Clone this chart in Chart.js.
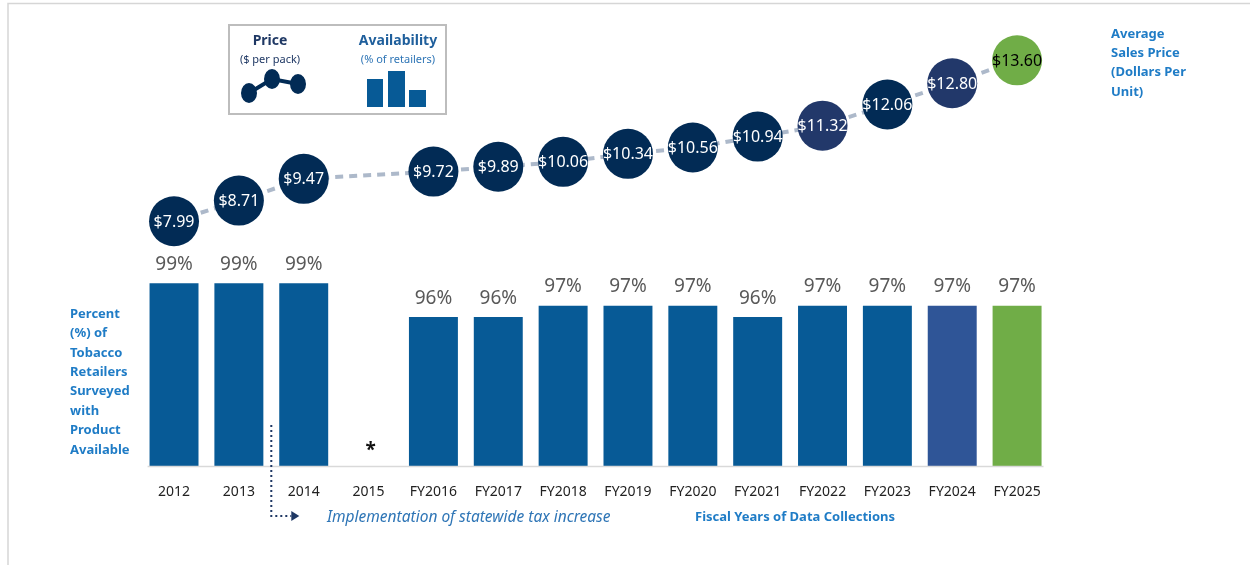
<!DOCTYPE html>
<html>
<head>
<meta charset="utf-8">
<script src="https://cdn.jsdelivr.net/npm/chart.js@4.4.1/dist/chart.umd.min.js"></script>
<style>
  html, body { margin: 0; padding: 0; background: #fff; }
  #chart { display: block; }
</style>
</head>
<body>
<canvas id="chart" width="1250" height="565"></canvas>
<script>
const years = ["2012", "2013", "2014", "2015", "FY2016", "FY2017", "FY2018", "FY2019", "FY2020", "FY2021", "FY2022", "FY2023", "FY2024", "FY2025"];
const availability = [99, 99, 99, null, 96, 96, 97, 97, 97, 96, 97, 97, 97, 97];
const prices = [7.99, 8.71, 9.47, null, 9.72, 9.89, 10.06, 10.34, 10.56, 10.94, 11.32, 12.06, 12.80, 13.60];

const barColors = years.map((y, i) => i === 13 ? "#70ad47" : i === 12 ? "#2f5597" : "#075a96");
const bubbleColors = years.map((y, i) => i === 13 ? "#70ad47" : (i === 10 || i === 12) ? "#22386a" : "#022b55");
const FONT = "'Noto Sans', 'Open Sans', sans-serif";
const BLUE_TXT = "#1f7cc6";

const dashed = [8, 6];

const extras = {
  id: "extras",
  afterDatasetsDraw(chart) {
    const { ctx, chartArea, scales } = chart;
    const x = scales.x;
    ctx.save();

    // frame
    ctx.strokeStyle = "#d6d6d6";
    ctx.lineWidth = 1.5;
    ctx.beginPath();
    ctx.moveTo(8, 565);
    ctx.lineTo(8, 3.5);
    ctx.lineTo(1250, 3.5);
    ctx.stroke();

    // axis line
    ctx.strokeStyle = "#d9d9d9";
    ctx.lineWidth = 1.5;
    ctx.beginPath();
    ctx.moveTo(chartArea.left + 6, chartArea.bottom + 0.5);
    ctx.lineTo(chartArea.right - 6, chartArea.bottom + 0.5);
    ctx.stroke();

    // bar value labels
    ctx.textAlign = "center";
    ctx.textBaseline = "middle";
    ctx.font = "19px " + FONT;
    ctx.fillStyle = "#595959";
    chart.getDatasetMeta(1).data.forEach((bar, i) => {
      if (availability[i] == null) return;
      ctx.fillText(availability[i] + "%", bar.x, bar.y - 19);
    });

    // bubble labels
    ctx.font = "16px " + FONT;
    chart.getDatasetMeta(0).data.forEach((pt, i) => {
      if (prices[i] == null) return;
      ctx.fillStyle = i === 13 ? "#000" : "#fff";
      ctx.fillText("$" + prices[i].toFixed(2), pt.x, pt.y + 1);
    });

    // category labels
    ctx.font = "14px " + FONT;
    ctx.fillStyle = "#222";
    years.forEach((y, i) => {
      ctx.fillText(y, x.getPixelForValue(i), chartArea.bottom + 26);
    });

    // asterisk for 2015
    ctx.font = "bold 19px " + FONT;
    ctx.fillStyle = "#111";
    ctx.fillText("*", x.getPixelForValue(3) + 2, chartArea.bottom - 15);

    // dotted arrow between 2013 and 2014
    const ax = (x.getPixelForValue(1) + x.getPixelForValue(2)) / 2;
    ctx.strokeStyle = "#1f3864";
    ctx.lineWidth = 2;
    ctx.setLineDash([2, 3]);
    ctx.beginPath();
    ctx.moveTo(ax, chartArea.bottom - 41);
    ctx.lineTo(ax, chartArea.bottom + 50);
    ctx.lineTo(ax + 20, chartArea.bottom + 50);
    ctx.stroke();
    ctx.setLineDash([]);
    ctx.fillStyle = "#1f3864";
    ctx.beginPath();
    ctx.moveTo(ax + 20, chartArea.bottom + 45);
    ctx.lineTo(ax + 28, chartArea.bottom + 50);
    ctx.lineTo(ax + 20, chartArea.bottom + 55);
    ctx.closePath();
    ctx.fill();

    ctx.textAlign = "left";
    ctx.font = "italic 15.5px " + FONT;
    ctx.fillStyle = "#2e75b6";
    ctx.fillText("Implementation of statewide tax increase", 327, 518);

    ctx.font = "bold 13px " + FONT;
    ctx.fillStyle = BLUE_TXT;
    ctx.fillText("Fiscal Years of Data Collections", 695, 517);

    // side titles
    const leftLines = ["Percent", "(%) of", "Tobacco", "Retailers", "Surveyed", "with", "Product", "Available"];
    leftLines.forEach((t, i) => ctx.fillText(t, 70, 314 + i * 19.4));
    const rightLines = ["Average", "Sales Price", "(Dollars Per", "Unit)"];
    rightLines.forEach((t, i) => ctx.fillText(t, 1111, 34 + i * 19.3));

    // legend box
    ctx.strokeStyle = "#bdbdbd";
    ctx.lineWidth = 2;
    ctx.strokeRect(229, 25, 217, 89);
    ctx.textAlign = "center";
    ctx.fillStyle = "#1f3864";
    ctx.font = "bold 14px " + FONT;
    ctx.fillText("Price", 270, 41);
    ctx.fillStyle = "#1f5f9c";
    ctx.fillText("Availability", 398, 41);
    ctx.font = "11px " + FONT;
    ctx.fillStyle = "#1f3864";
    ctx.fillText("($ per pack)", 270, 60);
    ctx.fillStyle = "#2e75b6";
    ctx.fillText("(% of retailers)", 398, 60);

    const icon = [[249, 93], [272, 79], [298, 84]];
    ctx.strokeStyle = "#022b55";
    ctx.lineWidth = 4;
    ctx.beginPath();
    ctx.moveTo(icon[0][0], icon[0][1]);
    icon.slice(1).forEach(p => ctx.lineTo(p[0], p[1]));
    ctx.stroke();
    ctx.fillStyle = "#022b55";
    icon.forEach(p => {
      ctx.beginPath();
      ctx.ellipse(p[0], p[1], 8, 10, 0, 0, Math.PI * 2);
      ctx.fill();
    });
    ctx.fillStyle = "#075a96";
    ctx.fillRect(367, 79, 16, 28);
    ctx.fillRect(388, 71, 17, 36);
    ctx.fillRect(409, 90, 17, 17);

    ctx.restore();
  }
};

new Chart(document.getElementById("chart"), {
  type: "bar",
  data: {
    labels: years,
    datasets: [
      {
        type: "line",
        data: prices,
        yAxisID: "yPrice",
        order: 0,
        borderColor: "#adb9ca",
        borderWidth: 4,
        borderDash: dashed,
        spanGaps: true,
        tension: 0,
        pointRadius: 25,
        pointHoverRadius: 25,
        pointBorderWidth: 0,
        pointBackgroundColor: bubbleColors,
        segment: {
          borderDash: ctx => (ctx.p1DataIndex - ctx.p0DataIndex > 1 ? [] : dashed)
        }
      },
      {
        type: "bar",
        data: availability,
        yAxisID: "yBar",
        order: 1,
        backgroundColor: barColors,
        barPercentage: 0.755,
        categoryPercentage: 1
      }
    ]
  },
  options: {
    responsive: false,
    animation: false,
    events: [],
    layout: { padding: { left: 141.6, right: 200.5, top: 20, bottom: 99 } },
    plugins: { legend: { display: false }, tooltip: { enabled: false } },
    scales: {
      x: { display: false },
      yBar: { display: false, min: 82.8, max: 121.9 },
      yPrice: { display: false, min: -0.54, max: 14.83 }
    }
  },
  plugins: [extras]
});
</script>
</body>
</html>
